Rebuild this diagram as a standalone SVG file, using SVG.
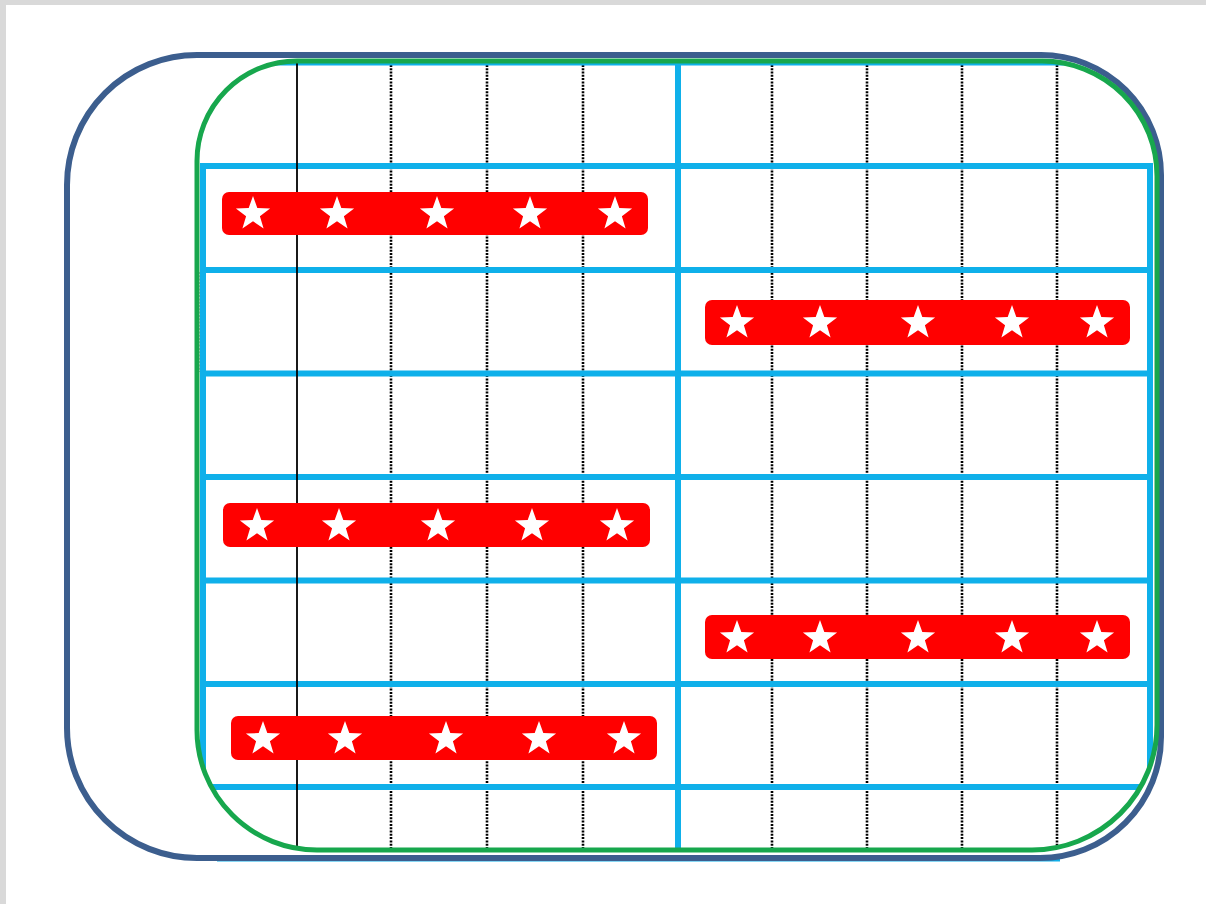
<svg xmlns="http://www.w3.org/2000/svg" width="1206" height="904" viewBox="0 0 1206 904">
<style>
.cy{stroke:#0fb0ea;stroke-width:6;fill:none}
.dot{stroke:#000;stroke-width:2.6;stroke-dasharray:2 1.3;fill:none}
.bar{fill:#ff0000}
.st{fill:#ffffff}
</style>
<defs>
<path id="star" d="M0,-18 L4.3,-5.9 L17.1,-5.6 L6.9,2.2 L10.6,14.6 L0,7.2 L-10.6,14.6 L-6.9,2.2 L-17.1,-5.6 L-4.3,-5.9 Z"/>
<clipPath id="inner"><path d="M297,61 H1042 A115,115 0 0 1 1157,176 V725 A125,125 0 0 1 1032,850 H317 A120,120 0 0 1 197,730 V161 A100,100 0 0 1 297,61 Z"/></clipPath>
</defs>
<rect x="0" y="0" width="1206" height="904" fill="#d9d9d9"/>
<rect x="6" y="5" width="1200" height="899" fill="#ffffff"/>
<line x1="217" y1="860" x2="1060" y2="860" stroke="#0fb0ea" stroke-width="3"/>
<path id="outer" d="M197,55 H1041 A120,120 0 0 1 1161,175 V737 A121,121 0 0 1 1040,858 H197 A130,130 0 0 1 67,728 V185 A130,130 0 0 1 197,55 Z" fill="none" stroke="#3c5e8e" stroke-width="6"/>
<line class="dot" x1="201" y1="272" x2="201" y2="372"/>
<g id="grid" clip-path="url(#inner)">
<g id="dotted-lines">
<line class="dot" x1="391" y1="55" x2="391" y2="855"/>
<line class="dot" x1="487" y1="55" x2="487" y2="855"/>
<line class="dot" x1="583" y1="55" x2="583" y2="855"/>
<line class="dot" x1="772" y1="55" x2="772" y2="855"/>
<line class="dot" x1="867" y1="55" x2="867" y2="855"/>
<line class="dot" x1="962" y1="55" x2="962" y2="855"/>
<line class="dot" x1="1057" y1="55" x2="1057" y2="855"/>
</g>
<line x1="190" y1="64" x2="1170" y2="64" stroke="#0fb0ea" stroke-width="3"/>
<line class="cy" x1="200" y1="166" x2="1153" y2="166"/>
<line class="cy" x1="200" y1="270" x2="1153" y2="270"/>
<line class="cy" x1="200" y1="373.5" x2="1153" y2="373.5"/>
<line class="cy" x1="200" y1="477" x2="1153" y2="477"/>
<line class="cy" x1="200" y1="580.5" x2="1153" y2="580.5"/>
<line class="cy" x1="200" y1="684" x2="1153" y2="684"/>
<line class="cy" x1="200" y1="787" x2="1153" y2="787"/>
<line class="cy" x1="678" y1="50" x2="678" y2="870"/>
<line class="cy" x1="203" y1="163" x2="203" y2="790"/>
<line class="cy" x1="1150" y1="163" x2="1150" y2="790"/>
<line x1="297" y1="55" x2="297" y2="855" stroke="#000" stroke-width="1.8"/>
</g>
<path id="inner-frame" d="M297,61 H1042 A115,115 0 0 1 1157,176 V725 A125,125 0 0 1 1032,850 H317 A120,120 0 0 1 197,730 V161 A100,100 0 0 1 297,61 Z" fill="none" stroke="#17a74d" stroke-width="5"/>
<g id="bar1"><rect class="bar" x="222" y="192" width="426" height="43" rx="7"/>
<use href="#star" class="st" x="253" y="214"/><use href="#star" class="st" x="337" y="214"/><use href="#star" class="st" x="437" y="214"/><use href="#star" class="st" x="530" y="214"/><use href="#star" class="st" x="615" y="214"/></g>
<g id="bar2"><rect class="bar" x="705" y="300" width="425" height="45" rx="7"/>
<use href="#star" class="st" x="737" y="323"/><use href="#star" class="st" x="820" y="323"/><use href="#star" class="st" x="918" y="323"/><use href="#star" class="st" x="1012" y="323"/><use href="#star" class="st" x="1097" y="323"/></g>
<g id="bar3"><rect class="bar" x="223" y="503" width="427" height="44" rx="7"/>
<use href="#star" class="st" x="257" y="526"/><use href="#star" class="st" x="339" y="526"/><use href="#star" class="st" x="438" y="526"/><use href="#star" class="st" x="532" y="526"/><use href="#star" class="st" x="617" y="526"/></g>
<g id="bar4"><rect class="bar" x="705" y="615" width="425" height="44" rx="7"/>
<use href="#star" class="st" x="737" y="638"/><use href="#star" class="st" x="820" y="638"/><use href="#star" class="st" x="918" y="638"/><use href="#star" class="st" x="1012" y="638"/><use href="#star" class="st" x="1097" y="638"/></g>
<g id="bar5"><rect class="bar" x="231" y="716" width="426" height="44" rx="7"/>
<use href="#star" class="st" x="263" y="739"/><use href="#star" class="st" x="345" y="739"/><use href="#star" class="st" x="446" y="739"/><use href="#star" class="st" x="539" y="739"/><use href="#star" class="st" x="624" y="739"/></g>
</svg>
